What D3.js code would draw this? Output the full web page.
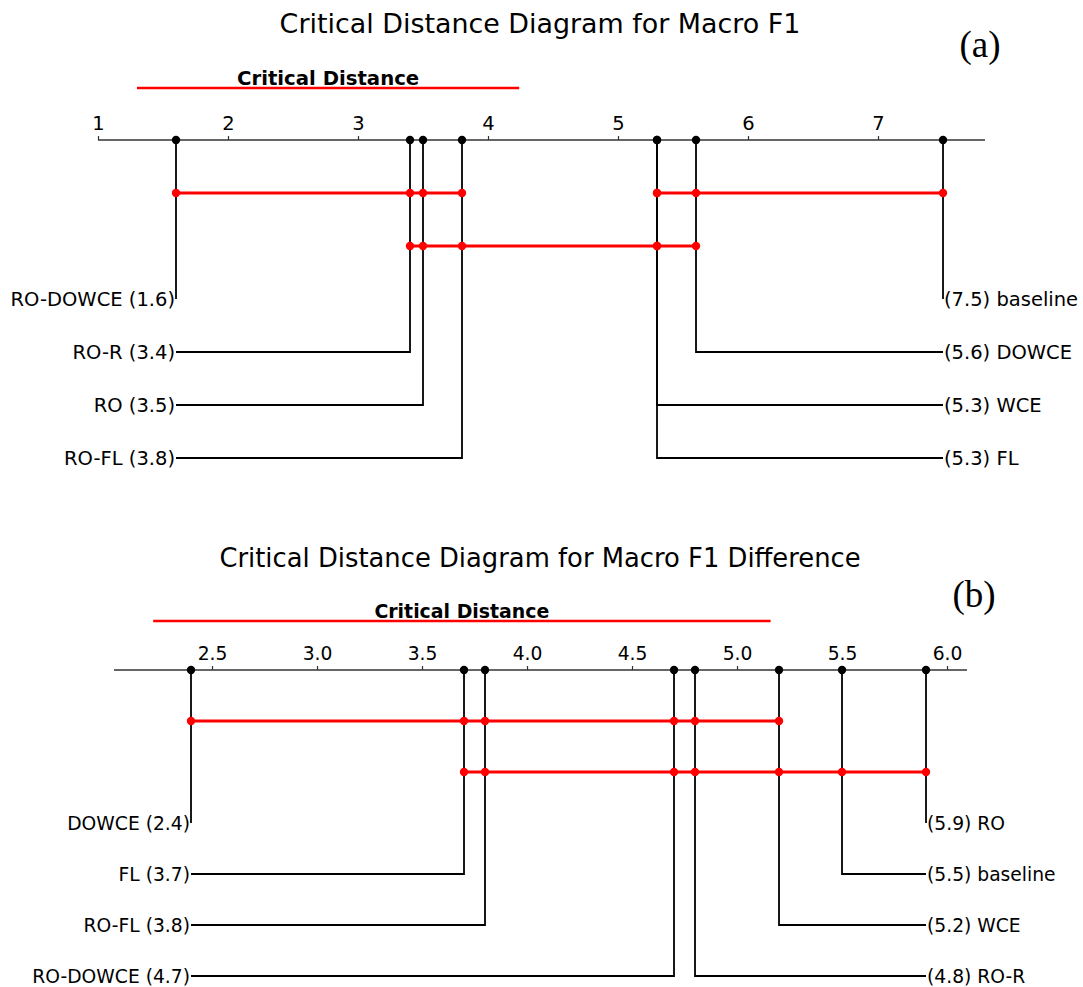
<!DOCTYPE html>
<html>
<head>
<meta charset="utf-8">
<script src="https://cdn.jsdelivr.net/npm/d3@7"></script>
<style>
  html, body { margin: 0; padding: 0; background: #fff; }
  svg { display: block; }
</style>
</head>
<body>
<svg id="chart" width="1083" height="987"></svg>
<script>
// ---- Panel (a): Macro F1 average ranks ----
const namesA = ["RO-DOWCE", "RO-R", "RO", "RO-FL", "FL", "WCE", "DOWCE", "baseline"];
const ranksA = [1.6, 3.4, 3.5, 3.8, 5.3, 5.3, 5.6, 7.5];
const ticksA = [1, 2, 3, 4, 5, 6, 7];
const cdA = 2.94;
const cdStartA = 1.3;
// groups with no significant difference, and the row each one sits on
const cliquesA = [
  ["RO-DOWCE", "RO-R", "RO", "RO-FL"],
  ["FL", "WCE", "DOWCE", "baseline"],
  ["RO-R", "RO", "RO-FL", "FL", "WCE", "DOWCE"]
];
const cliqueRowsA = [0, 0, 1];

// ---- Panel (b): Macro F1 difference average ranks ----
const namesB = ["DOWCE", "FL", "RO-FL", "RO-DOWCE", "RO-R", "WCE", "baseline", "RO"];
const ranksB = [2.4, 3.7, 3.8, 4.7, 4.8, 5.2, 5.5, 5.9];
const ticksB = [2.5, 3.0, 3.5, 4.0, 4.5, 5.0, 5.5, 6.0];
const cdB = 2.94;
const cdStartB = 2.22;
const cliquesB = [
  ["DOWCE", "FL", "RO-FL", "RO-DOWCE", "RO-R", "WCE"],
  ["FL", "RO-FL", "RO-DOWCE", "RO-R", "WCE", "baseline", "RO"]
];
const cliqueRowsB = [0, 1];

const svg = d3.select("#chart");
const FONT = "'DejaVu Sans', sans-serif";

function drawPanel(cfg) {
  const g = svg.append("g");
  const x = d3.scaleLinear().domain(cfg.domain).range(cfg.range);
  const rowY = i => cfg.axisY + cfg.rowGap * (i + 1);
  const fs = cfg.fontScale;
  const labelSize = 19.5 * fs;

  // title
  g.append("text")
    .attr("x", 540).attr("y", cfg.titleY)
    .attr("text-anchor", "middle")
    .attr("font-family", FONT).attr("font-size", 26.9 * fs)
    .text(cfg.title);

  // panel tag
  g.append("text")
    .attr("x", cfg.tagX).attr("y", cfg.tagY)
    .attr("text-anchor", "middle")
    .attr("font-family", "'Liberation Serif', 'DejaVu Serif', serif")
    .attr("font-size", 37)
    .text(cfg.tag);

  // critical distance bar
  g.append("line")
    .attr("x1", x(cfg.cdStart)).attr("x2", x(cfg.cdStart + cfg.cd))
    .attr("y1", cfg.cdY).attr("y2", cfg.cdY)
    .attr("stroke", "#ff0000").attr("stroke-width", 2.5);
  g.append("text")
    .attr("x", x(cfg.cdStart + cfg.cd / 2)).attr("y", cfg.cdY - 3)
    .attr("text-anchor", "middle")
    .attr("font-family", FONT).attr("font-size", 19.7 * fs).attr("font-weight", "bold")
    .text("Critical Distance");

  // rank axis
  const axis = d3.axisTop(x).tickValues(cfg.ticks)
    .tickFormat(cfg.fmt).tickSize(4).tickSizeOuter(0).tickPadding(6);
  const ax = g.append("g").attr("transform", `translate(0,${cfg.axisY})`).call(axis);
  ax.select(".domain").attr("stroke", "#333").attr("stroke-width", 1.5)
    .attr("d", `M${cfg.range[0]},0H${cfg.range[1]}`);
  ax.selectAll(".tick line").attr("stroke", "#333").attr("stroke-width", 1.2);
  ax.selectAll(".tick text").attr("font-family", FONT).attr("font-size", labelSize).attr("fill", "#000");

  const items = cfg.names.map((n, i) => ({ name: n, rank: cfg.ranks[i] }));
  const half = Math.ceil(items.length / 2);
  const left = items.slice(0, half);
  const right = items.slice(half).reverse();
  const xl = x(d3.min(cfg.ranks));
  const xr = x(d3.max(cfg.ranks));

  const connectors = g.append("g").attr("fill", "none").attr("stroke", "#000").attr("stroke-width", 1.8);
  left.forEach((d, i) => {
    connectors.append("path")
      .attr("d", `M${x(d.rank)},${cfg.axisY}V${rowY(i + 2)}H${xl}`);
    g.append("text")
      .attr("x", xl - 1).attr("y", rowY(i + 2)).attr("dy", "0.35em")
      .attr("text-anchor", "end")
      .attr("font-family", FONT).attr("font-size", labelSize)
      .text(`${d.name} (${d.rank})`);
  });
  right.forEach((d, i) => {
    connectors.append("path")
      .attr("d", `M${x(d.rank)},${cfg.axisY}V${rowY(i + 2)}H${xr}`);
    g.append("text")
      .attr("x", xr + 1).attr("y", rowY(i + 2)).attr("dy", "0.35em")
      .attr("text-anchor", "start")
      .attr("font-family", FONT).attr("font-size", labelSize)
      .text(`(${d.rank}) ${d.name}`);
  });

  // rank markers on the axis
  g.selectAll(".rankdot").data(items).enter().append("circle")
    .attr("cx", d => x(d.rank)).attr("cy", cfg.axisY).attr("r", 4.2)
    .attr("fill", "#000");

  // cliques
  const rankOf = new Map(items.map(d => [d.name, d.rank]));
  cfg.cliques.forEach((members, ci) => {
    const rs = members.map(m => rankOf.get(m));
    const y = rowY(cfg.cliqueRows[ci]);
    g.append("line")
      .attr("x1", x(d3.min(rs))).attr("x2", x(d3.max(rs)))
      .attr("y1", y).attr("y2", y)
      .attr("stroke", "#ff0000").attr("stroke-width", 2.8);
    g.selectAll(null).data(rs).enter().append("circle")
      .attr("cx", r => x(r)).attr("cy", y).attr("r", 4.2)
      .attr("fill", "#ff0000");
  });
}

drawPanel({
  title: "Critical Distance Diagram for Macro F1",
  titleY: 33, tag: "(a)", tagX: 980, tagY: 57, fontScale: 1,
  names: namesA, ranks: ranksA, ticks: ticksA, fmt: d3.format("d"),
  domain: [1, 7.823], range: [98, 985],
  axisY: 140, rowGap: 53,
  cd: cdA, cdStart: cdStartA, cdY: 88,
  cliques: cliquesA, cliqueRows: cliqueRowsA
});

drawPanel({
  title: "Critical Distance Diagram for Macro F1 Difference",
  titleY: 567, tag: "(b)", tagX: 974, tagY: 607, fontScale: 0.96,
  names: namesB, ranks: ranksB, ticks: ticksB, fmt: d3.format(".1f"),
  domain: [2.0333, 6.0952], range: [114, 967],
  axisY: 670, rowGap: 51,
  cd: cdB, cdStart: cdStartB, cdY: 621,
  cliques: cliquesB, cliqueRows: cliqueRowsB
});
</script>
</body>
</html>
